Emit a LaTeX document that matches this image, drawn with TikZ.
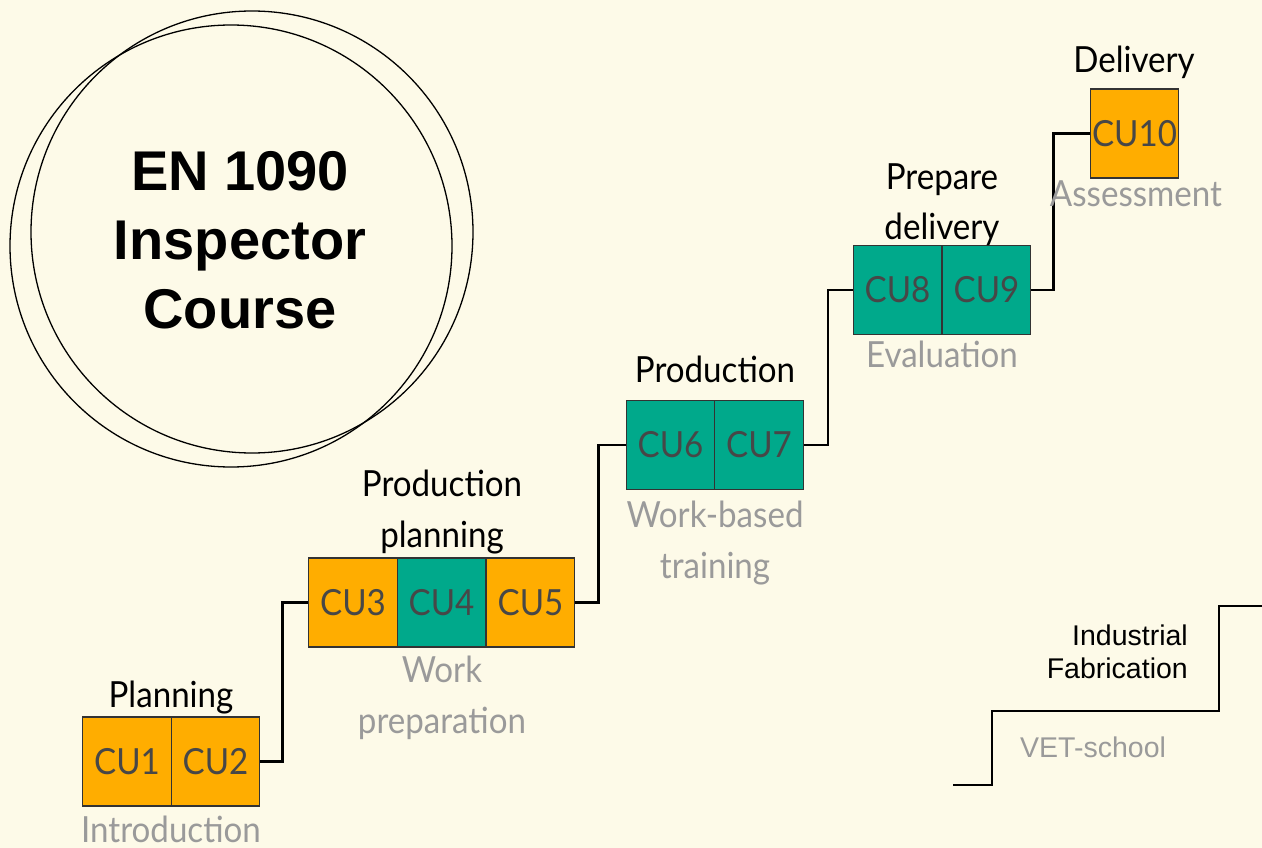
\documentclass[tikz,border=0pt]{standalone}
\usepackage{fontspec}
\setmainfont{Liberation Sans}
\newfontfamily\condfont[FakeStretch=0.92]{Lato}
\definecolor{bgcream}{HTML}{FDFAE8}
\definecolor{cuorange}{HTML}{FFAD00}
\definecolor{cuteal}{HTML}{00A98B}
\definecolor{cutext}{HTML}{474747}
\definecolor{subgray}{HTML}{9A9A9A}
\definecolor{boxline}{HTML}{333333}
\tikzset{
  cell/.style={draw=boxline, line width=1.4pt, minimum width=88.5pt, minimum height=89pt, inner sep=0pt,
    font=\condfont\fontsize{36}{40}\selectfont, text=cutext},
  orangecell/.style={cell, fill=cuorange},
  tealcell/.style={cell, fill=cuteal},
  stage/.style={font=\condfont\fontsize{36}{51}\selectfont, text=black, align=center, anchor=base, inner sep=0pt},
  sublabel/.style={font=\condfont\fontsize{36}{51}\selectfont, text=subgray, align=center, anchor=base, inner sep=0pt},
  link/.style={line width=2.4pt, black},
  ring/.style={line width=1.3pt, black},
  steps/.style={line width=2.4pt, black},
}
\begin{document}
\begin{tikzpicture}[x=1pt,y=-1pt]
\useasboundingbox (0,0) rectangle (1262,848);
\fill[bgcream] (0,0) rectangle (1262,848);

% title circles
\draw[ring] (252,232) circle (221pt);
\draw[ring] (231,246) circle (221pt);
\node[font=\bfseries\fontsize{56}{69}\selectfont, align=center, anchor=base, inner sep=0pt] (title) at (240,328) {EN 1090\\Inspector\\Course};

% cells
\node[orangecell] (cu1) at (127,761.5) {CU1};
\node[orangecell] (cu2) at (215.5,761.5) {CU2};
\node[orangecell] (cu3) at (353,602.5) {CU3};
\node[tealcell] (cu4) at (441.5,602.5) {CU4};
\node[orangecell] (cu5) at (530.5,602.5) {CU5};
\node[tealcell] (cu6) at (670.5,445) {CU6};
\node[tealcell] (cu7) at (759,445) {CU7};
\node[tealcell] (cu8) at (897.5,290) {CU8};
\node[tealcell] (cu9) at (986.5,290) {CU9};
\node[orangecell] (cu10) at (1134.5,133.5) {CU10};

% connectors
\draw[link] (cu2.east) -- ++(22,0) |- (cu3.west);
\draw[link] (cu5.east) -- ++(23,0) |- (cu6.west);
\draw[link] (cu7.east) -- ++(24,0) |- (cu8.west);
\draw[link] (cu9.east) -- ++(22,0) |- (cu10.west);

% stage labels
\node[stage] (planning) at (171,707) {Planning};
\node[stage] (prodplan) at (442,547) {Production\\planning};
\node[stage] (production) at (715,382) {Production};
\node[stage] (prepdel) at (942,240) {Prepare\\delivery};
\node[stage] (delivery) at (1134,73) {Delivery};

% sub labels
\node[sublabel] (intro) at (171,842) {Introduction};
\node[sublabel] (workprep) at (442,733) {Work\\preparation};
\node[sublabel] (wbt) at (715,578) {Work-based\\training};
\node[sublabel] (eval) at (942,367) {Evaluation};
\node[sublabel] (assess) at (1136,207) {Assessment};

% steps bottom right
\draw[steps] (953,785) -- (992,785) -- (992,711) -- (1219,711) -- (1219,606) -- (1262,606);
\node[font=\fontsize{28.5}{33}\selectfont, align=right, anchor=base east, inner sep=0pt] (indfab) at (1188,678) {Industrial\\Fabrication};
\node[font=\fontsize{28.5}{33}\selectfont, text=subgray, anchor=base west, inner sep=0pt] (vet) at (1020,757) {VET-school};
\end{tikzpicture}
\end{document}
